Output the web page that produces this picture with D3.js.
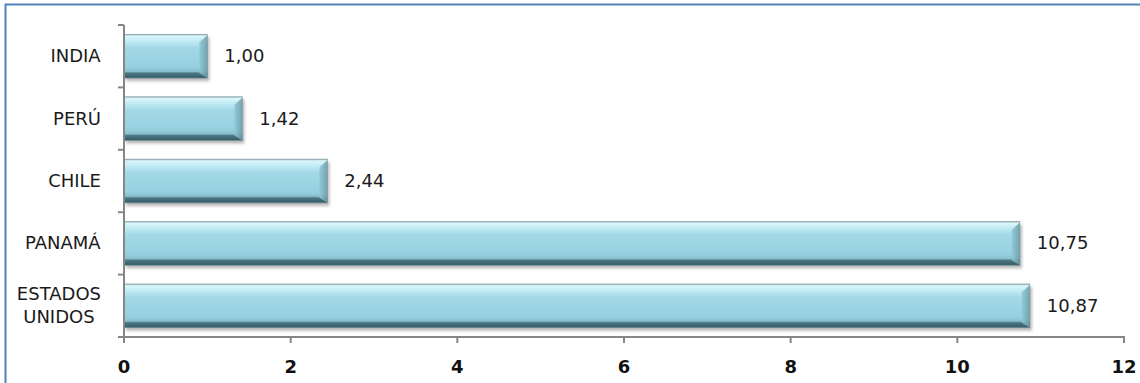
<!DOCTYPE html>
<html>
<head>
<meta charset="utf-8">
<script src="https://cdn.jsdelivr.net/npm/d3@7"></script>
<style>
  html, body { margin: 0; padding: 0; background: #fff; }
  svg { display: block; }
</style>
</head>
<body>
<div id="chart"></div>
<script>
// Data, top to bottom as in the chart
const categories = ["INDIA", "PERÚ", "CHILE", "PANAMÁ", "ESTADOS UNIDOS"];
const categoryLines = [["INDIA"], ["PERÚ"], ["CHILE"], ["PANAMÁ"], ["ESTADOS", "UNIDOS"]];
const values = [1.00, 1.42, 2.44, 10.75, 10.87];
const valueLabels = ["1,00", "1,42", "2,44", "10,75", "10,87"];
const xTicks = [0, 2, 4, 6, 8, 10, 12];

const W = 1140, H = 383;
const font = "'DejaVu Sans', sans-serif";

const svg = d3.select("#chart").append("svg")
  .attr("width", W).attr("height", H);

const defs = svg.append("defs");

const grad = defs.append("linearGradient")
  .attr("id", "barGrad").attr("x1", 0).attr("y1", 0).attr("x2", 0).attr("y2", 1);
[
  [0, "#9fb3b8"], [0.04, "#d9f6fb"], [0.16, "#c0eaf4"], [0.3, "#a3d9e7"],
  [0.75, "#96d0df"], [0.85, "#88bfce"], [0.89, "#4b7682"], [1, "#345c66"]
].forEach(([o, c]) => grad.append("stop").attr("offset", o).attr("stop-color", c));

const capGrad = defs.append("linearGradient")
  .attr("id", "capGrad").attr("x1", 0).attr("y1", 0).attr("x2", 1).attr("y2", 0);
capGrad.append("stop").attr("offset", 0).attr("stop-color", "#8fc7d6");
capGrad.append("stop").attr("offset", 1).attr("stop-color", "#6b9aa6");

const blur = defs.append("filter").attr("id", "shadow")
  .attr("x", "-5%").attr("y", "-30%").attr("width", "110%").attr("height", "160%");
blur.append("feGaussianBlur").attr("stdDeviation", 1.8);

// Scales
const x = d3.scaleLinear().domain([0, 12]).range([124, 1124]);
const y = d3.scaleBand().domain(categories).range([25, 337]).paddingInner(0.3).paddingOuter(0.15);

// Frame (top and left edges only are visible)
svg.append("path")
  .attr("d", `M5.5,${H} V4.5 H${W}`)
  .attr("fill", "none").attr("stroke", "#4f81bd").attr("stroke-width", 2);

// Bars
const bars = svg.append("g").selectAll("g.bar")
  .data(categories).join("g").attr("class", "bar");

bars.append("rect")
  .attr("x", d => x(0) + 2)
  .attr("y", d => y(d) + 3)
  .attr("width", (d, i) => x(values[i]) - x(0))
  .attr("height", y.bandwidth())
  .attr("fill", "#7a7a7a").attr("opacity", 0.55)
  .attr("filter", "url(#shadow)");

bars.append("rect")
  .attr("x", x(0))
  .attr("y", d => y(d))
  .attr("width", (d, i) => x(values[i]) - x(0))
  .attr("height", y.bandwidth())
  .attr("fill", "url(#barGrad)");

// Bevelled right end
bars.append("path")
  .attr("d", (d, i) => {
    const xr = x(values[i]), y0 = y(d), h = y.bandwidth(), b = 8;
    return `M${xr - b},${y0 + b} L${xr},${y0 + 1} L${xr},${y0 + h} L${xr - b},${y0 + h - 5} Z`;
  })
  .attr("fill", "url(#capGrad)").attr("opacity", 0.85);

bars.append("rect")
  .attr("x", x(0))
  .attr("y", d => y(d))
  .attr("width", (d, i) => x(values[i]) - x(0))
  .attr("height", y.bandwidth())
  .attr("fill", "none").attr("stroke", "#6f9099").attr("stroke-width", 0.8).attr("stroke-opacity", 0.7);

// Value labels
svg.append("g").selectAll("text")
  .data(categories).join("text")
  .attr("x", (d, i) => x(values[i]) + 17)
  .attr("y", d => y(d) + y.bandwidth() / 2 + 6)
  .attr("font-family", font).attr("font-size", 18).attr("fill", "#1a1a1a")
  .text((d, i) => valueLabels[i]);

// Axes
const axisColor = "#868686";
const bandEdges = categories.map(c => y(c) - y.step() * y.paddingInner() / 2);
bandEdges[0] = 25;
bandEdges.push(337);

svg.append("line")
  .attr("x1", x(0)).attr("x2", x(0)).attr("y1", 25).attr("y2", 337)
  .attr("stroke", axisColor).attr("stroke-width", 2);
svg.append("g").selectAll("line")
  .data(bandEdges).join("line")
  .attr("x1", x(0) - 6).attr("x2", x(0))
  .attr("y1", d => d).attr("y2", d => d)
  .attr("stroke", axisColor).attr("stroke-width", 2);

svg.append("line")
  .attr("x1", x(0) - 1).attr("x2", x(12) + 1).attr("y1", 337).attr("y2", 337)
  .attr("stroke", axisColor).attr("stroke-width", 2);
svg.append("g").selectAll("line")
  .data(xTicks).join("line")
  .attr("x1", d => x(d)).attr("x2", d => x(d))
  .attr("y1", 337).attr("y2", 343)
  .attr("stroke", axisColor).attr("stroke-width", 2);

svg.append("g").selectAll("text")
  .data(xTicks).join("text")
  .attr("x", d => x(d)).attr("y", 373)
  .attr("text-anchor", "middle")
  .attr("font-family", font).attr("font-size", 18).attr("font-weight", "bold").attr("fill", "#111")
  .text(d => d);

// Category labels (multi-line ones centred under each other, block right-aligned)
const catG = svg.append("g");
categoryLines.forEach((lines, i) => {
  const cy = y(categories[i]) + y.bandwidth() / 2;
  const t = catG.append("text")
    .attr("font-family", font).attr("font-size", 18).attr("fill", "#1a1a1a")
    .attr("text-anchor", "middle");
  const lh = 23;
  lines.forEach((ln, j) => {
    t.append("tspan").attr("x", 0)
      .attr("y", cy + 6 + (j - (lines.length - 1) / 2) * lh)
      .text(ln);
  });
  const w = t.node().getBBox().width;
  t.selectAll("tspan").attr("x", 101 - w / 2);
});
</script>
</body>
</html>
